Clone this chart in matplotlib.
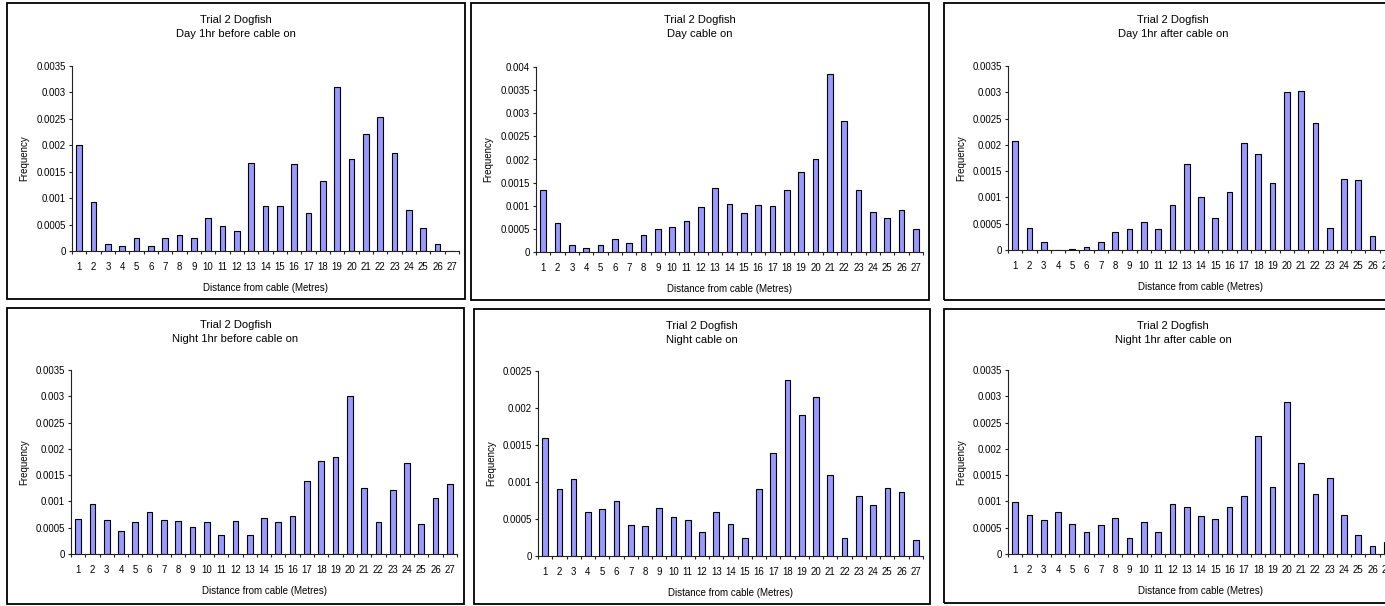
import matplotlib
matplotlib.use("Agg")
import matplotlib.pyplot as plt
from matplotlib.patches import Rectangle
from matplotlib.ticker import FixedLocator, FuncFormatter

plt.rcParams['font.family'] = ['Liberation Sans', 'DejaVu Sans']

distance = [1, 2, 3, 4, 5, 6, 7, 8, 9, 10, 11, 12, 13, 14, 15, 16, 17, 18, 19, 20,
            21, 22, 23, 24, 25, 26, 27]

day_before = [0.00201, 0.00092, 0.00013, 0.000095, 0.00025, 0.000095, 0.00024, 0.00031,
              0.00025, 0.00063, 0.00047, 0.00037, 0.00167, 0.00085, 0.00086, 0.00164,
              0.00072, 0.00133, 0.00311, 0.00174, 0.00221, 0.00253, 0.00186, 0.00078,
              0.00044, 0.00014, 0.0]
day_on = [0.00133, 0.00063, 0.000145, 0.00009, 0.00016, 0.00029, 0.00019, 0.00037,
          0.0005, 0.00054, 0.00068, 0.00097, 0.00139, 0.00103, 0.00085, 0.00102,
          0.00099, 0.00134, 0.00174, 0.002, 0.00384, 0.00283, 0.00135, 0.00087,
          0.00073, 0.0009, 0.0005]
day_after = [0.00208, 0.00042, 0.00015, 0.0, 0.00002, 0.00006, 0.00016, 0.00034,
             0.00039, 0.00054, 0.0004, 0.00085, 0.00163, 0.00101, 0.0006, 0.00111,
             0.00203, 0.00183, 0.00128, 0.003, 0.00302, 0.00241, 0.00042, 0.00135,
             0.00133, 0.00027, 0.0]
night_before = [0.00066, 0.00095, 0.00064, 0.00044, 0.00061, 0.0008, 0.00064, 0.00063,
                0.00051, 0.0006, 0.00037, 0.00063, 0.00037, 0.00068, 0.00061, 0.00072,
                0.00139, 0.00177, 0.00184, 0.00301, 0.00125, 0.00061, 0.00122, 0.00173,
                0.00057, 0.00106, 0.00133]
night_on = [0.0016, 0.0009, 0.00104, 0.00059, 0.00064, 0.00075, 0.00042, 0.0004,
            0.00065, 0.00053, 0.00048, 0.00032, 0.0006, 0.00043, 0.00025, 0.0009,
            0.00139, 0.00238, 0.00191, 0.00215, 0.00109, 0.00024, 0.00081, 0.00069,
            0.00092, 0.00086, 0.00022]
night_after = [0.00098, 0.00074, 0.00065, 0.0008, 0.00057, 0.00042, 0.00055, 0.00068,
               0.00031, 0.0006, 0.00041, 0.00095, 0.0009, 0.00072, 0.00067, 0.00089,
               0.00111, 0.00224, 0.00127, 0.0029, 0.00173, 0.00114, 0.00144, 0.00074,
               0.00037, 0.00015, 0.00023]

titles = ["Trial 2 Dogfish\nDay 1hr before cable on",
          "Trial 2 Dogfish\nDay cable on",
          "Trial 2 Dogfish\nDay 1hr after cable on",
          "Trial 2 Dogfish\nNight 1hr before cable on",
          "Trial 2 Dogfish\nNight cable on",
          "Trial 2 Dogfish\nNight 1hr after cable on"]
series = [day_before, day_on, day_after, night_before, night_on, night_after]
y_max = [0.0035, 0.004, 0.0035, 0.0035, 0.0025, 0.0035]
y_step = 0.0005
x_label = "Distance from cable (Metres)"
y_label = "Frequency"

W, H = 1385, 606
fig = plt.figure(figsize=(W / 100, H / 100), dpi=100)
fig.patch.set_facecolor('white')

# layout in pixels: (axes x0, axes x1, axes top, axes zero), (box x0, box x1, box y0, box y1)
layout = [
    ((72, 459, 66, 251), (7, 465, 3, 299)),
    ((536, 923, 67, 252), (471, 929, 3, 300)),
    ((1008, 1394, 66, 250), (944, 1402, 3, 300)),
    ((71, 457, 370, 554), (7, 464, 308, 604)),
    ((538, 923, 371, 556), (474, 930, 309, 604)),
    ((1008, 1394, 370, 554), (944, 1402, 309, 603)),
]

bar_color = '#9999FF'

for vals, title, ym, (axp, boxp) in zip(series, titles, y_max, layout):
    ax0, ax1, atop, azero = axp
    bx0, bx1, by0, by1 = boxp
    # panel frame
    fig.patches.append(Rectangle((bx0 / W, 1 - by1 / H), (bx1 - bx0) / W, (by1 - by0) / H,
                                 transform=fig.transFigure, fill=False,
                                 edgecolor='black', linewidth=1.3, zorder=0))
    ax = fig.add_axes([ax0 / W, 1 - azero / H, (ax1 - ax0) / W, (azero - atop) / H])
    ax.set_facecolor('none')
    # shadow
    ax.bar([d + 0.07 for d in distance], vals, width=0.4, color='#888888',
           edgecolor='none', zorder=1)
    ax.bar(distance, vals, width=0.4, color=bar_color, edgecolor='black',
           linewidth=0.8, zorder=2)
    ax.set_xlim(0.5, 27.5)
    ax.set_ylim(0, ym)
    for s in ['top', 'right']:
        ax.spines[s].set_visible(False)
    for s in ['left', 'bottom']:
        ax.spines[s].set_color('#222222')
        ax.spines[s].set_linewidth(0.8)
    ax.spines['bottom'].set_zorder(3)
    nt = int(round(ym / y_step))
    yt = [i * y_step for i in range(nt + 1)]
    ax.set_yticks(yt)
    ax.yaxis.set_major_formatter(FuncFormatter(lambda v, p: '0' if abs(v) < 1e-12 else '{:g}'.format(round(v, 6))))
    ax.xaxis.set_major_locator(FixedLocator([d - 0.5 for d in distance] + [distance[-1] + 0.5]))
    ax.xaxis.set_minor_locator(FixedLocator(distance))
    ax.xaxis.set_major_formatter(FuncFormatter(lambda v, p: ''))
    ax.xaxis.set_minor_formatter(FuncFormatter(lambda v, p: '%d' % round(v)))
    ax.tick_params(axis='x', which='major', direction='out', length=2.5, width=0.8, color='#222222')
    ax.tick_params(axis='x', which='minor', length=0, labelsize=6.9, pad=8)
    ax.tick_params(axis='y', direction='out', length=2.5, width=0.8, color='#222222',
                   labelsize=6.9, pad=2)
    ax.set_xlabel(x_label, fontsize=7)
    ax.set_ylabel(y_label, fontsize=7)
    h = azero - atop
    w = ax1 - ax0
    ax.xaxis.set_label_coords(0.5, -32 / h)
    ax.yaxis.set_label_coords(-(ax0 - bx0 - 22) / w, 0.5)
    # title centred on panel frame
    cx = (bx0 + bx1) / 2
    fig.text(cx / W, 1 - (by0 + 17) / H, title.split('\n')[0], ha='center', va='center', fontsize=8)
    fig.text(cx / W, 1 - (by0 + 31) / H, title.split('\n')[1], ha='center', va='center', fontsize=8)

fig.savefig('out.png', dpi=100, facecolor='white')
